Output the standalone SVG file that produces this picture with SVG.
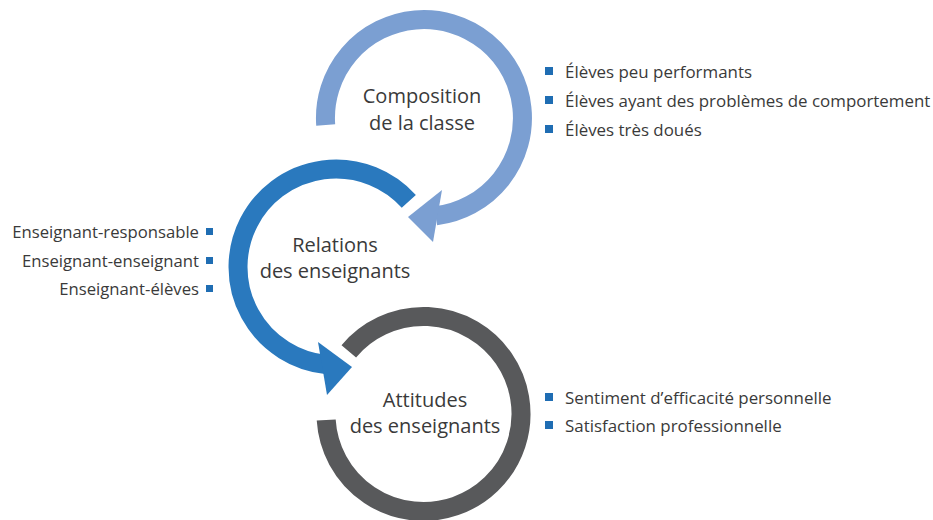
<svg xmlns="http://www.w3.org/2000/svg" width="933" height="520" viewBox="0 0 933 520">
<style>
  .ring { fill: none; stroke-width: 19; stroke-linecap: butt; }
  .title { font-family: "Open Sans", Lato, sans-serif; font-size: 20px; fill: #3a3a3a; text-anchor: middle; }
  .item { font-family: "Open Sans", Lato, sans-serif; font-size: 16.9px; fill: #3a3a3a; }
  .itemR { font-family: "Open Sans", Lato, sans-serif; font-size: 16.7px; fill: #3a3a3a; text-anchor: end; }
  .bullet { fill: #1f6db3; }
</style>
<rect width="933" height="520" fill="#ffffff"/>
<g id="connectors">
  <path class="ring" stroke="#7b9fd2" d="M 325.7 125 A 98.5 98.5 0 1 1 436 215.8"/>
  <polygon fill="#7b9fd2" points="442,190 408,217 433,242"/>
  <path class="ring" stroke="#2a79be" d="M 408.8 201.4 A 98 98 0 1 0 325.8 364.5"/>
  <polygon fill="#2a79be" points="318,342 352,367 327,395"/>
  <path class="ring" stroke="#58595b" d="M 326.2 420 A 97.5 97.5 0 1 0 348.8 351.3"/>
</g>
<g id="node-composition">
  <text class="title" x="422" y="103">Composition</text>
  <text class="title" x="422" y="130">de la classe</text>
</g>
<g id="node-relations">
  <text class="title" x="335" y="252">Relations</text>
  <text class="title" x="335" y="278">des enseignants</text>
</g>
<g id="node-attitudes">
  <text class="title" x="425" y="407">Attitudes</text>
  <text class="title" x="425" y="433">des enseignants</text>
</g>
<g id="list-composition">
  <rect class="bullet" x="545" y="67" width="8" height="8"/>
  <rect class="bullet" x="545" y="96" width="8" height="8"/>
  <rect class="bullet" x="545" y="125" width="8" height="8"/>
  <text class="item" x="565" y="78">Élèves peu performants</text>
  <text class="item" x="565" y="107">Élèves ayant des problèmes de comportement</text>
  <text class="item" x="565" y="136">Élèves très doués</text>
</g>
<g id="list-relations">
  <rect class="bullet" x="206" y="228" width="7" height="7"/>
  <rect class="bullet" x="206" y="257" width="7" height="7"/>
  <rect class="bullet" x="206" y="285" width="7" height="7"/>
  <text class="itemR" x="199" y="238">Enseignant-responsable</text>
  <text class="itemR" x="199" y="267">Enseignant-enseignant</text>
  <text class="itemR" x="199" y="295">Enseignant-élèves</text>
</g>
<g id="list-attitudes">
  <rect class="bullet" x="545" y="393" width="8" height="8"/>
  <rect class="bullet" x="545" y="421" width="8" height="8"/>
  <text class="item" x="565" y="404">Sentiment d’efficacité personnelle</text>
  <text class="item" x="565" y="432">Satisfaction professionnelle</text>
</g>
</svg>
